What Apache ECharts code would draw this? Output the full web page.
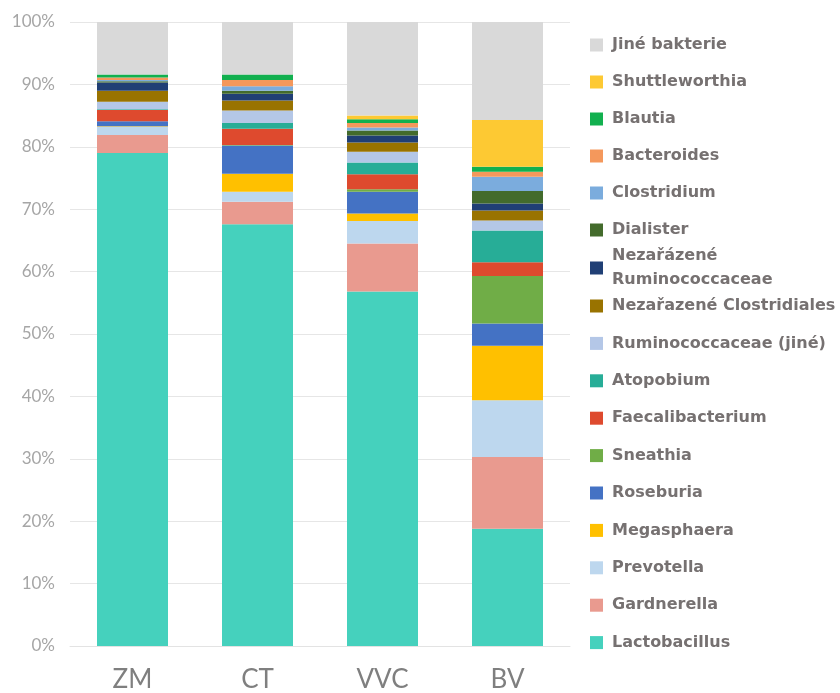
<!DOCTYPE html>
<html>
<head>
<meta charset="utf-8">
<script src="https://cdn.jsdelivr.net/npm/echarts@6/dist/echarts.min.js"></script>
<style>
html,body{margin:0;padding:0;background:#fff;}
#chart{width:840px;height:693px;}
</style>
</head>
<body>
<div id="chart"></div>
<script>
// Categories (groups)
const categories = ['ZM', 'CT', 'VVC', 'BV'];

// Series values, % per group (bottom of the stack first)
const lactobacillus     = [79.0, 67.6, 56.8, 18.8];
const gardnerella       = [2.9, 3.6, 7.7, 11.5];
const prevotella        = [1.3, 1.6, 3.6, 9.1];
const megasphaera       = [0.1, 2.9, 1.2, 8.7];
const roseburia         = [0.8, 4.5, 3.5, 3.6];
const sneathia          = [0.0, 0.1, 0.4, 7.6];
const faecalibacterium  = [1.8, 2.6, 2.4, 2.2];
const atopobium         = [0.1, 0.9, 1.9, 5.1];
const ruminococcJine    = [1.2, 2.0, 1.7, 1.6];
const nezClostridiales  = [1.8, 1.6, 1.5, 1.6];
const nezRuminococc     = [1.3, 1.1, 1.1, 1.1];
const dialister         = [0.2, 0.5, 0.8, 2.0];
const clostridium       = [0.2, 0.7, 0.5, 2.3];
const bacteroides       = [0.4, 1.0, 0.7, 0.8];
const blautia           = [0.5, 0.9, 0.6, 0.8];
const shuttleworthia    = [0.0, 0.0, 0.6, 7.5];
const jineBakterie      = [8.4, 8.4, 15.0, 15.7];

// Y tick labels
const yTicks = ['0%', '10%', '20%', '30%', '40%', '50%', '60%', '70%', '80%', '90%', '100%'];

const seriesDefs = [
  ['Lactobacillus', lactobacillus, '#45d1bd'],
  ['Gardnerella', gardnerella, '#e99a8f'],
  ['Prevotella', prevotella, '#bdd7ee'],
  ['Megasphaera', megasphaera, '#ffc000'],
  ['Roseburia', roseburia, '#4472c4'],
  ['Sneathia', sneathia, '#70ad47'],
  ['Faecalibacterium', faecalibacterium, '#de4a2e'],
  ['Atopobium', atopobium, '#27ad97'],
  ['Ruminococcaceae (jiné)', ruminococcJine, '#b4c7e7'],
  ['Nezařazené Clostridiales', nezClostridiales, '#997300'],
  ['Nezařázené Ruminococcaceae', nezRuminococc, '#203f75'],
  ['Dialister', dialister, '#436b2c'],
  ['Clostridium', clostridium, '#7bacdd'],
  ['Bacteroides', bacteroides, '#f4985c'],
  ['Blautia', blautia, '#12b04f'],
  ['Shuttleworthia', shuttleworthia, '#fdc933'],
  ['Jiné bakterie', jineBakterie, '#d9d9d9']
];

const series = seriesDefs.map(([name, data, color]) => ({
  name: name,
  type: 'bar',
  stack: 'total',
  barWidth: 71,
  data: data,
  itemStyle: { color: color },
  emphasis: { disabled: true }
}));

const legendText = {
  fontFamily: 'DejaVu Sans',
  fontWeight: 'bold',
  fontSize: 16,
  color: '#767171',
  lineHeight: 18,
  padding: [0, 0, 0, 4]
};

const legendBase = {
  orient: 'vertical',
  left: 585,
  icon: 'rect',
  itemWidth: 13,
  itemHeight: 13,
  selectedMode: false,
  textStyle: legendText
};

const chart = echarts.init(document.getElementById('chart'), null, { renderer: 'canvas' });
chart.setOption({
  backgroundColor: '#ffffff',
  animation: false,
  grid: { left: 70, right: 270, top: 22, bottom: 45, containLabel: false },
  legend: [
    Object.assign({}, legendBase, {
      top: 31, itemGap: 19,
      data: ['Jiné bakterie', 'Shuttleworthia', 'Blautia', 'Bacteroides', 'Clostridium', 'Dialister']
    }),
    Object.assign({}, legendBase, {
      top: 239, itemGap: 19,
      data: ['Nezařázené Ruminococcaceae'],
      formatter: n => n.replace(' ', '\n'),
      textStyle: Object.assign({}, legendText, { lineHeight: 24 })
    }),
    Object.assign({}, legendBase, {
      top: 292, itemGap: 19.4,
      data: ['Nezařazené Clostridiales', 'Ruminococcaceae (jiné)', 'Atopobium', 'Faecalibacterium',
             'Sneathia', 'Roseburia', 'Megasphaera', 'Prevotella', 'Gardnerella', 'Lactobacillus']
    })
  ],
  xAxis: {
    type: 'category',
    data: categories,
    axisLine: { show: true, lineStyle: { color: '#e3e3e3', width: 1 } },
    axisTick: { show: false },
    axisLabel: { color: '#7f7f7f', fontSize: 26, fontFamily: 'Lato', margin: 21 }
  },
  yAxis: {
    type: 'value',
    min: 0,
    max: 100,
    interval: 10,
    axisLine: { show: false },
    axisTick: { show: false },
    splitLine: { lineStyle: { color: '#e6e6e6', width: 1 } },
    axisLabel: {
      color: '#a6a6a6', fontSize: 17, fontFamily: 'Lato', margin: 15,
      formatter: v => yTicks[Math.round(v / 10)]
    }
  },
  series: series
});
</script>
</body>
</html>
